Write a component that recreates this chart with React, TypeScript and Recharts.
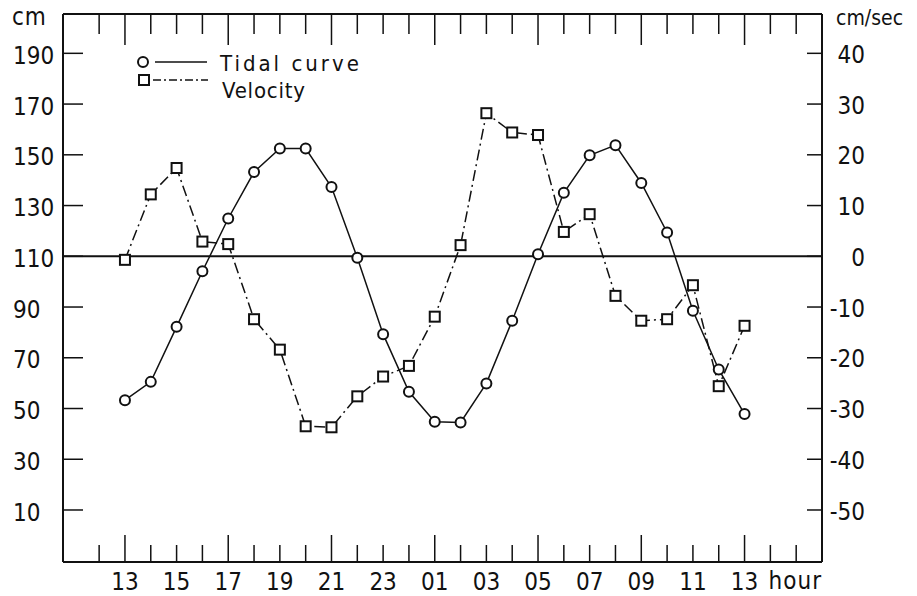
import React from 'react';
import { ComposedChart, Line, XAxis, YAxis, ReferenceLine, Legend, Label } from 'recharts';

// clock hour of each hourly reading (13:00 day 1 ... 13:00 day 2)
const clockHours = [13, 14, 15, 16, 17, 18, 19, 20, 21, 22, 23, 0, 1, 2, 3, 4, 5, 6, 7, 8, 9, 10, 11, 12, 13];
// water level, cm (left axis)
const tidalCurve = [53.3, 60.5, 82.2, 104.1, 124.9, 143.2, 152.5, 152.5, 137.3, 109.4, 79.3, 56.6, 44.8, 44.5, 59.9, 84.6, 110.8, 135, 149.8, 153.8, 138.9, 119.4, 88.5, 65.4, 47.8];
// current velocity, cm/sec (right axis)
const velocity = [-0.7, 12.2, 17.4, 2.9, 2.4, -12.4, -18.4, -33.5, -33.7, -27.6, -23.7, -21.6, -11.9, 2.2, 28.2, 24.4, 23.9, 4.8, 8.3, -7.8, -12.7, -12.4, -5.7, -25.6, -13.7];

const cmTicks = [10, 30, 50, 70, 90, 110, 130, 150, 170, 190];
const velTicks = [-50, -40, -30, -20, -10, 0, 10, 20, 30, 40];
const hourTicks = [-1, 0, 1, 2, 3, 4, 5, 6, 7, 8, 9, 10, 11, 12, 13, 14, 15, 16, 17, 18, 19, 20, 21, 22, 23, 24, 25, 26];

const data = clockHours.map((h, i) => ({ t: i, hour: h, tide: tidalCurve[i], vel: velocity[i] }));

const FONT = "'DejaVu Sans Condensed', 'Liberation Sans Narrow', 'Liberation Sans', sans-serif";
const INK = '#111';
const VEL_DASH = '11 4 2 4';

const pad = (h: number) => String(h).padStart(2, '0');

const BottomTick = ({ x, y, payload }: any) => {
  const v = payload.value;
  const long = v % 4 === 0;
  const label = v >= 0 && v < clockHours.length && v % 2 === 0 ? pad(clockHours[v]) : null;
  return (
    <g>
      <line x1={x} x2={x} y1={y} y2={y - (long ? 27 : 17)} stroke={INK} strokeWidth={1.5} />
      {label && (
        <text x={x} y={y + 28} textAnchor="middle" fontSize={24} fontFamily={FONT} fill={INK}>
          {label}
        </text>
      )}
    </g>
  );
};

const TopTick = ({ x, y, payload }: any) => {
  const long = payload.value % 4 === 0;
  return <line x1={x} x2={x} y1={y} y2={y + (long ? 31 : 20)} stroke={INK} strokeWidth={1.5} />;
};

const LeftTick = ({ x, y, payload }: any) => (
  <g>
    <line x1={x} x2={x + 20} y1={y} y2={y} stroke={INK} strokeWidth={1.5} />
    <text x={x - 50} y={y + 2} dy="0.36em" textAnchor="start" fontSize={24} fontFamily={FONT} fill={INK}>
      {payload.value}
    </text>
  </g>
);

const RightTick = ({ x, y, payload }: any) => (
  <g>
    <line x1={x} x2={x - 15} y1={y} y2={y} stroke={INK} strokeWidth={1.5} />
    <text x={x + 43} y={y + 1} dy="0.36em" textAnchor="end" fontSize={24} fontFamily={FONT} fill={INK}>
      {payload.value}
    </text>
  </g>
);

const CircleDot = (p: any) => (
  <circle key={`c${p.index}`} cx={p.cx} cy={p.cy} r={5} fill="#fff" stroke={INK} strokeWidth={2} />
);

const SquareDot = (p: any) => (
  <rect key={`s${p.index}`} x={p.cx - 5} y={p.cy - 5} width={10} height={10} fill="#fff" stroke={INK} strokeWidth={2} />
);

const LegendBox = () => (
  <svg width={260} height={62} style={{ display: 'block', overflow: 'visible' }}>
    <line x1={25} x2={77} y1={17} y2={17} stroke={INK} strokeWidth={1.5} />
    <circle cx={13} cy={17} r={5} fill="#fff" stroke={INK} strokeWidth={2} />
    <text x={90} y={26} fontSize={22} fontFamily={FONT} letterSpacing={3} fill={INK}>Tidal curve</text>
    <line x1={23} x2={78} y1={35} y2={35} stroke={INK} strokeWidth={1.5} strokeDasharray="8 3 2 3" />
    <rect x={9} y={30} width={10} height={10} fill="#fff" stroke={INK} strokeWidth={2} />
    <text x={92} y={53} fontSize={22} fontFamily={FONT} letterSpacing={0.8} fill={INK}>Velocity</text>
  </svg>
);

const cornerLabel = (text: string, dx: number, dy: number, anchor: string, size = 24, fromRight = false) => (props: any) => {
  const vb = props.viewBox || { x: 0, y: 0, width: 0, height: 0 };
  const x = (fromRight ? vb.x + vb.width : vb.x) + dx;
  return (
    <text x={x} y={vb.y + dy} textAnchor={anchor} fontSize={size} fontFamily={FONT} letterSpacing={size < 24 ? 0 : 1} fill={INK}>
      {text}
    </text>
  );
};

export default function App() {
  return (
    <div style={{ position: 'absolute', left: 0, top: 0, background: '#fff' }}>
      <ComposedChart width={917} height={596} data={data} margin={{ top: 0, right: 8, bottom: 0, left: 8 }}>
        <XAxis
          xAxisId="bottom"
          dataKey="t"
          type="number"
          domain={[-2.4, 27]}
          ticks={hourTicks}
          interval={0}
          allowDataOverflow
          height={34}
          tickSize={0}
          tickMargin={0}
          tick={<BottomTick />}
          axisLine={{ stroke: INK, strokeWidth: 2 }}
        >
          <Label content={cornerLabel('hour', 0, 27, 'end', 24, true)} />
        </XAxis>
        <XAxis
          xAxisId="top"
          orientation="top"
          dataKey="t"
          type="number"
          domain={[-2.4, 27]}
          ticks={hourTicks}
          interval={0}
          allowDataOverflow
          height={14}
          tickSize={0}
          tickMargin={0}
          tick={<TopTick />}
          axisLine={{ stroke: INK, strokeWidth: 2 }}
        />
        <YAxis
          yAxisId="left"
          type="number"
          domain={[-10.5, 205.5]}
          ticks={cmTicks}
          interval={0}
          allowDataOverflow
          width={55}
          tickSize={0}
          tickMargin={0}
          tick={<LeftTick />}
          axisLine={{ stroke: INK, strokeWidth: 2 }}
        >
          <Label content={cornerLabel('cm', 4, 11, 'start')} />
        </YAxis>
        <YAxis
          yAxisId="right"
          orientation="right"
          type="number"
          domain={[-60.25, 47.75]}
          ticks={velTicks}
          interval={0}
          allowDataOverflow
          width={87}
          tickSize={0}
          tickMargin={0}
          tick={<RightTick />}
          axisLine={{ stroke: INK, strokeWidth: 2 }}
        >
          <Label content={cornerLabel('cm/sec', 14, 11, 'start', 21)} />
        </YAxis>
        <ReferenceLine yAxisId="left" xAxisId="bottom" y={110} stroke={INK} strokeWidth={2} />
        <Legend
          layout="vertical"
          align="center"
          verticalAlign="middle"
          content={<LegendBox />}
          wrapperStyle={{ left: 130, top: 45, width: 260, height: 62 }}
        />
        <Line
          xAxisId="bottom"
          yAxisId="left"
          dataKey="tide"
          name="Tidal curve"
          stroke={INK}
          strokeWidth={1.5}
          dot={CircleDot}
          activeDot={false}
          isAnimationActive={false}
        />
        <Line
          xAxisId="bottom"
          yAxisId="right"
          dataKey="vel"
          name="Velocity"
          stroke={INK}
          strokeWidth={1.5}
          strokeDasharray={VEL_DASH}
          dot={SquareDot}
          activeDot={false}
          isAnimationActive={false}
        />
      </ComposedChart>
    </div>
  );
}
